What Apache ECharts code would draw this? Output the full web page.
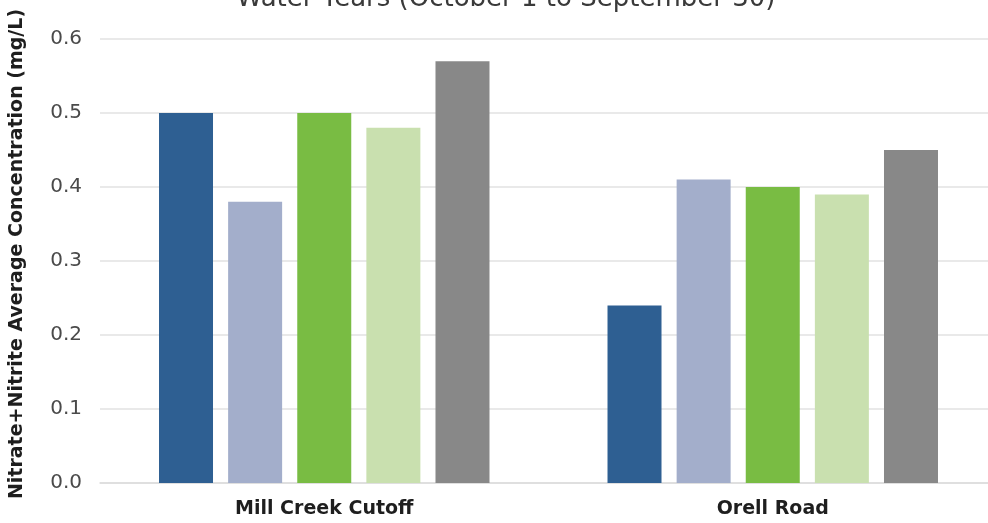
<!DOCTYPE html>
<html>
<head>
<meta charset="utf-8">
<script src="https://cdn.jsdelivr.net/npm/echarts@6/dist/echarts.min.js"></script>
<style>
  html, body { margin: 0; padding: 0; background: #fff; }
  #chart { width: 988px; height: 523px; }
</style>
</head>
<body>
<div id="chart"></div>
<script>
// sites on the x axis
const sites = ['Mill Creek Cutoff', 'Orell Road'];

// one array per water year (values in mg/L)
const wy1 = [0.50, 0.24];
const wy2 = [0.38, 0.41];
const wy3 = [0.50, 0.40];
const wy4 = [0.48, 0.39];
const wy5 = [0.57, 0.45];

const seriesNames = ['WY 1', 'WY 2', 'WY 3', 'WY 4', 'WY 5'];
const seriesData = [wy1, wy2, wy3, wy4, wy5];
const colors = ['#2E5F92', '#A3AECB', '#79BC43', '#C9E0AF', '#888888'];

const yTicks = [0, 0.1, 0.2, 0.3, 0.4, 0.5, 0.6];

var chartDom = document.getElementById('chart');
var myChart = echarts.init(chartDom);

var option = {
  animation: false,
  textStyle: { fontFamily: 'DejaVu Sans' },
  title: {
    text: 'Water Years (October 1 to September 30)',
    left: 501,
    textAlign: 'center',
    top: -19,
    textStyle: { fontSize: 26, fontWeight: 'normal', color: '#3a3a3a', fontFamily: 'DejaVu Sans' }
  },
  grid: { left: 100, width: 897, top: 39, bottom: 40, containLabel: false, outerBoundsMode: 'none' },
  xAxis: {
    type: 'category',
    data: sites,
    axisTick: { show: false },
    axisLine: { lineStyle: { color: '#dcdcdc', width: 1.5 } },
    axisLabel: { fontSize: 19, fontWeight: 'bold', color: '#1e1e1e', margin: 17, fontFamily: 'DejaVu Sans' }
  },
  yAxis: {
    type: 'value',
    min: yTicks[0],
    max: yTicks[yTicks.length - 1],
    interval: 0.1,
    name: 'Nitrate+Nitrite Average Concentration (mg/L)',
    nameLocation: 'middle',
    nameGap: 73,
    nameTextStyle: {
      fontSize: 19, fontWeight: 'bold', color: '#1e1e1e', fontFamily: 'DejaVu Sans',
      padding: [0, 0, 0, 14]
    },
    axisLabel: {
      fontSize: 20, color: '#4a4a4a', margin: 18, fontFamily: 'DejaVu Sans',
      formatter: function (v) { return v.toFixed(1); }
    },
    splitLine: { lineStyle: { color: '#e2e2e2', width: 1.5 } }
  },
  series: seriesData.map(function (d, i) {
    return {
      name: seriesNames[i],
      type: 'bar',
      data: d,
      barWidth: 54,
      barGap: '28%',
      itemStyle: { color: colors[i] }
    };
  })
};

myChart.setOption(option);
</script>
</body>
</html>
